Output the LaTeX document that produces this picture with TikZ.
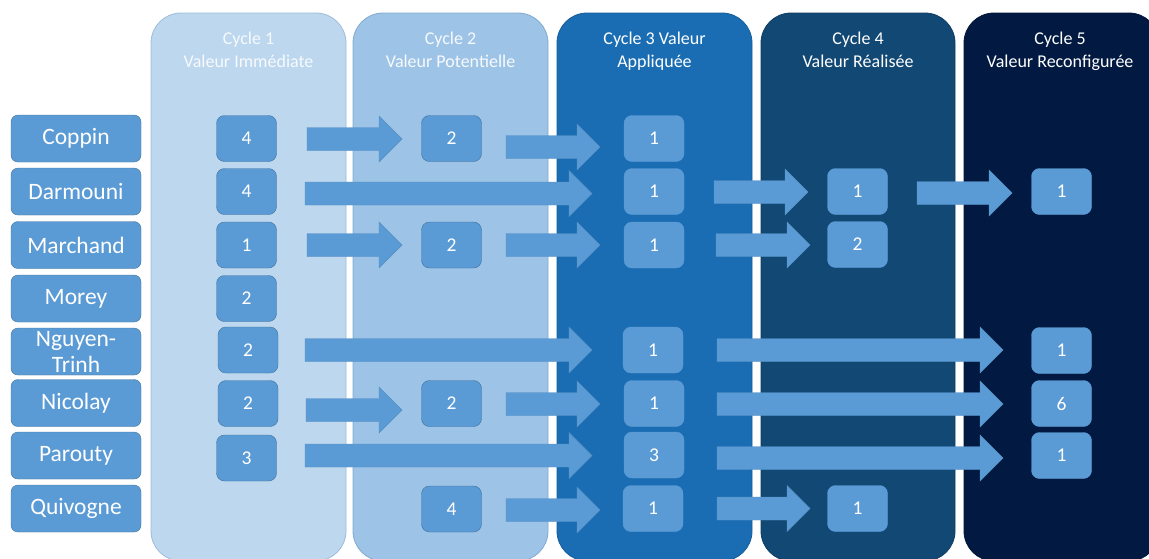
\documentclass[tikz,border=0pt]{standalone}
\usepackage{fontspec}
\setmainfont{Carlito}
\definecolor{cA}{HTML}{BDD7EE}
\definecolor{cB}{HTML}{9DC3E6}
\definecolor{cC}{HTML}{1A6DB3}
\definecolor{cD}{HTML}{124874}
\definecolor{cE}{HTML}{021A42}
\definecolor{boxb}{HTML}{5B9BD5}
\definecolor{boxline}{HTML}{41719C}
\newcommand{\barr}[3]{\draw[arrowfill] (#1,#3-11.5) -- (#2-23,#3-11.5) -- (#2-23,#3-23) -- (#2,#3) -- (#2-23,#3+23) -- (#2-23,#3+11.5) -- (#1,#3+11.5) -- cycle;}
\begin{document}
\begin{tikzpicture}[x=1pt,y=-1pt,
  colbox/.style={rounded corners=30pt, line width=0.8pt},
  namebox/.style={draw=boxline, fill=boxb, rounded corners=7pt, minimum width=130pt, minimum height=47pt, text=white, font=\fontsize{23.5}{26}\selectfont, inner sep=0pt, align=center},
  numbox/.style={draw=boxline, fill=boxb, rounded corners=8pt, minimum width=60pt, minimum height=46pt, text=white, font=\fontsize{19.5}{22}\selectfont, inner sep=0pt},
  numboxd/.style={numbox, draw=boxb},
  arrowfill/.style={fill=boxb, draw=boxb!92!black, line width=0.4pt},
  hdr/.style={text=white, font=\fontsize{18}{23}\selectfont, anchor=base, inner sep=0pt},
  hdrl/.style={hdr, text=white!88!cA}]
\useasboundingbox (0,0) rectangle (1149,558);
\clip (0,0) rectangle (1149,558);
\fill[white] (0,0) rectangle (1149,558);
% columns
\draw[colbox, fill=cA, draw=cA!75!boxline] (151,13) rectangle (346,561);
\draw[colbox, fill=cB, draw=cB!70!boxline] (353,13) rectangle (548,561);
\draw[colbox, fill=cC, draw=cC!85!black] (557,13) rectangle (752,561);
\draw[colbox, fill=cD, draw=cD!85!black] (761,13) rectangle (955,561);
\draw[colbox, fill=cE, draw=cE!85!black] (964,13) rectangle (1159,561);
% headers
\node[hdrl] (h1a) at (248.5,44) {Cycle 1};
\node[hdrl] (h1b) at (248.5,67) {Valeur Immédiate};
\node[hdrl] (h2a) at (450.5,44) {Cycle 2};
\node[hdrl] (h2b) at (450.5,67) {Valeur Potentielle};
\node[hdr] (h3a) at (654.5,44) {Cycle 3 Valeur};
\node[hdr] (h3b) at (654.5,67) {Appliquée};
\node[hdr] (h4a) at (858,44) {Cycle 4};
\node[hdr] (h4b) at (858,67) {Valeur Réalisée};
\node[hdr] (h5a) at (1060,44) {Cycle 5};
\node[hdr] (h5b) at (1060,67) {Valeur Reconfigurée};
% arrows
\barr{307}{402}{139}
\barr{506}{600}{147}
\barr{305}{592}{193.5}
\barr{714}{808}{192}
\barr{917}{1012}{193}
\barr{307}{402}{245}
\barr{506}{600}{245}
\barr{716}{810}{245}
\barr{305}{592}{350}
\barr{717}{1003}{350}
\barr{306}{402}{410}
\barr{506}{600}{404}
\barr{717}{1003}{404}
\barr{305}{592}{455.5}
\barr{717}{1003}{458}
\barr{506}{600}{510}
\barr{717}{810}{508.5}
% names
\node[namebox] (nCoppin) at (76,138.5) {Coppin};
\node[namebox] (nDarmouni) at (76,191.5) {Darmouni};
\node[namebox] (nMarchand) at (76,245) {Marchand};
\node[namebox] (nMorey) at (76,298.5) {Morey};
\node[namebox] (nNguyen) at (76,351.5) {Nguyen-\\Trinh};
\node[namebox] (nNicolay) at (76,403) {Nicolay};
\node[namebox] (nParouty) at (76,455.5) {Parouty};
\node[namebox] (nQuivogne) at (76,508.5) {Quivogne};
% cycle 1
\node[numbox] (a1) at (246.5,138.5) {4};
\node[numbox] (a2) at (246.5,191.5) {4};
\node[numbox] (a3) at (246.5,245) {1};
\node[numbox] (a4) at (246.5,298.5) {2};
\node[numbox] (a5) at (248,350) {2};
\node[numbox] (a6) at (248,403.5) {2};
\node[numbox] (a7) at (246.5,458) {3};
% cycle 2
\node[numbox] (b1) at (451.5,138.5) {2};
\node[numbox] (b3) at (451.5,245) {2};
\node[numbox] (b6) at (451.5,403.5) {2};
\node[numbox] (b8) at (451.5,509) {4};
% cycle 3
\node[numboxd] (c1) at (654,138.5) {1};
\node[numboxd] (c2) at (654,191.5) {1};
\node[numboxd] (c3) at (654,245) {1};
\node[numboxd] (c5) at (653,350) {1};
\node[numboxd] (c6) at (654,403.5) {1};
\node[numboxd] (c7) at (654,455) {3};
\node[numboxd] (c8) at (653,508.5) {1};
% cycle 4
\node[numboxd] (d2) at (857.5,191.5) {1};
\node[numboxd] (d3) at (857.5,244.5) {2};
\node[numboxd] (d8) at (857.5,508.5) {1};
% cycle 5
\node[numboxd] (e2) at (1061.5,191.5) {1};
\node[numboxd] (e5) at (1061.5,350.5) {1};
\node[numboxd] (e6) at (1061.5,403.5) {6};
\node[numboxd] (e7) at (1061.5,455.5) {1};
\end{tikzpicture}
\end{document}
